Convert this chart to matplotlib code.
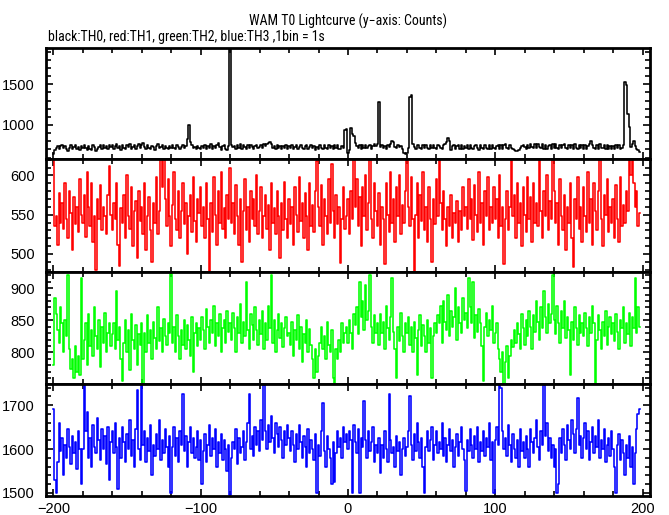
import numpy as np
import matplotlib
matplotlib.use("Agg")
import matplotlib.pyplot as plt
from matplotlib.ticker import MultipleLocator
from matplotlib import font_manager

plt.rcParams['font.family'] = ['Liberation Sans', 'DejaVu Sans']
names = {f.name for f in font_manager.fontManager.ttflist}

title = "WAM T0 Lightcurve (y\u2212axis: Counts)"
subtitle = "black:TH0, red:TH1, green:TH2, blue:TH3 ,1bin = 1s"

time_s = list(range(-200, 199))

th0 = [
    640, 690, 715, 745, 700, 738, 755, 712, 740, 705, 680, 722, 748, 700, 735, 752, 710, 728, 695, 740,
    712, 758, 720, 695, 742, 708, 690, 750, 725, 685, 705, 730, 748, 702, 760, 722, 745, 710, 758, 728,
    748, 705, 736, 762, 712, 740, 698, 755, 720, 708, 750, 725, 768, 710, 735, 752, 702, 745, 770, 720,
    760, 775, 728, 705, 755, 718, 700, 745, 725, 698, 740, 762, 712, 730, 750, 705, 745, 720, 700, 738,
    712, 755, 720, 700, 748, 735, 705, 728, 752, 715, 745, 830, 1005, 790, 760, 718, 735, 700, 745, 722,
    700, 742, 715, 755, 705, 738, 720, 762, 708, 745, 712, 758, 780, 725, 698, 740, 755, 710, 695, 738,
    2300, 760, 725, 742, 700, 750, 718, 762, 710, 748, 725, 700, 752, 715, 758, 728, 705, 740, 755, 712,
    735, 755, 718, 762, 745, 770, 782, 795, 765, 722, 740, 702, 748, 715, 738, 700, 745, 712, 752, 705,
    740, 712, 750, 700, 735, 758, 710, 728, 752, 715, 700, 742, 760, 708, 725, 750, 712, 745, 698, 735,
    708, 750, 720, 700, 758, 715, 702, 748, 712, 740, 705, 752, 718, 760, 710, 700, 742, 718, 935, 945,
    650, 690, 965, 885, 870, 775, 740, 712, 750, 705, 748, 720, 755, 712, 738, 760, 708, 745, 765, 740,
    770, 1280, 730, 748, 715, 740, 705, 752, 728, 765, 800, 795, 730, 712, 748, 725, 740, 700, 655, 640,
    660, 720, 1340, 1365, 770, 725, 705, 748, 758, 712, 700, 752, 715, 760, 722, 705, 748, 718, 755, 720,
    705, 758, 740, 720, 700, 752, 770, 790, 840, 800, 695, 738, 752, 700, 742, 758, 710, 748, 705, 740,
    715, 755, 708, 760, 722, 700, 745, 758, 712, 698, 752, 715, 705, 760, 720, 702, 750, 710, 756, 718,
    700, 745, 758, 710, 752, 705, 748, 762, 715, 708, 755, 722, 700, 690, 682, 680, 695, 712, 745, 758,
    725, 705, 760, 722, 768, 735, 712, 762, 720, 770, 728, 715, 765, 708, 750, 700, 742, 756, 710, 762,
    718, 765, 722, 705, 755, 712, 760, 770, 722, 705, 758, 715, 752, 710, 765, 720, 705, 752, 712, 758,
    710, 752, 705, 745, 770, 800, 760, 712, 700, 750, 708, 765, 722, 712, 748, 700, 758, 710, 745, 700,
    745, 705, 758, 712, 750, 700, 718, 760, 1530, 1490, 1140, 975, 735, 770, 800, 740, 710, 690, 670,
]

th1 = [
    620, 535, 548, 512, 578, 540, 565, 532, 590, 545, 520, 580, 552, 505, 572, 538, 560, 528, 595, 550,
    540, 575, 522, 605, 560, 535, 590, 515, 548, 480, 570, 545, 588, 530, 560, 548, 525, 575, 612, 550,
    530, 565, 545, 590, 512, 485, 558, 540, 575, 520, 600, 548, 532, 585, 510, 555, 568, 495, 580, 542,
    560, 525, 590, 505, 548, 572, 530, 490, 565, 540, 598, 525, 555, 625, 585, 625, 570, 535, 595, 548,
    510, 562, 605, 545, 530, 580, 520, 555, 590, 538, 565, 500, 548, 575, 528, 598, 542, 515, 570, 552,
    585, 535, 560, 520, 590, 545, 478, 565, 528, 598, 550, 512, 580, 540, 605, 532, 558, 520, 575, 545,
    610, 540, 565, 525, 588, 548, 512, 570, 490, 555, 595, 530, 560, 515, 580, 545, 570, 535, 600, 525,
    555, 585, 520, 548, 575, 532, 562, 505, 590, 540, 558, 525, 580, 548, 495, 565, 530, 592, 545, 520,
    570, 538, 560, 512, 585, 550, 528, 598, 542, 565, 520, 578, 548, 505, 590, 535, 562, 528, 580, 618,
    560, 535, 588, 512, 570, 548, 525, 595, 540, 615, 555, 520, 575, 538, 560, 488, 545, 585, 532, 548,
    570, 525, 580, 545, 625, 560, 595, 535, 572, 510, 585, 548, 600, 530, 565, 625, 545, 520, 590, 555,
    535, 578, 512, 560, 545, 487, 590, 550, 528, 605, 540, 570, 515, 585, 548, 600, 525, 562, 540, 580,
    625, 560, 535, 598, 545, 477, 550, 590, 520, 575, 542, 605, 530, 560, 515, 585, 545, 490, 570, 538,
    595, 548, 625, 565, 530, 580, 545, 510, 560, 535, 575, 520, 552, 540, 568, 515, 555, 530, 585, 548,
    560, 532, 595, 545, 570, 518, 588, 550, 528, 605, 540, 565, 512, 580, 548, 598, 530, 560, 540, 585,
    545, 570, 520, 600, 535, 560, 487, 545, 580, 530, 560, 625, 548, 575, 520, 590, 540, 565, 510, 585,
    550, 528, 598, 545, 572, 515, 590, 540, 565, 535, 625, 555, 520, 580, 548, 600, 530, 568, 545, 625,
    580, 540, 565, 512, 595, 548, 530, 575, 505, 560, 540, 590, 520, 483, 570, 545, 598, 532, 560, 515,
    585, 548, 528, 605, 540, 570, 512, 590, 555, 530, 580, 625, 545, 510, 575, 550, 595, 528, 560, 540,
    570, 520, 588, 545, 515, 598, 535, 562, 540, 580, 555, 625, 600, 625, 590, 560, 580, 535, 552,
]

th2 = [
    780, 885, 860, 835, 815, 870, 845, 800, 850, 825, 920, 805, 775, 790, 760, 810, 770, 795, 765, 915,
    790, 820, 845, 780, 860, 810, 835, 795, 870, 825, 805, 850, 778, 840, 815, 862, 800, 830, 845, 810,
    828, 845, 805, 895, 820, 840, 790, 755, 815, 850, 800, 835, 772, 860, 820, 805, 842, 780, 828, 812,
    845, 750, 830, 800, 858, 815, 835, 790, 848, 822, 805, 870, 818, 838, 800, 852, 826, 812, 845, 830,
    922, 815, 840, 800, 858, 825, 790, 835, 812, 850, 805, 842, 820, 795, 855, 770, 830, 845, 810, 838,
    820, 855, 835, 805, 868, 840, 815, 850, 830, 872, 810, 845, 825, 860, 800, 838, 850, 815, 865, 832,
    845, 820, 862, 838, 800, 855, 830, 875, 815, 848, 825, 910, 835, 805, 860, 842, 820, 870, 835, 812,
    850, 828, 865, 805, 845, 820, 872, 838, 920, 815, 850, 800, 835, 860, 822, 845, 808, 838, 855, 825,
    830, 812, 848, 795, 835, 820, 858, 805, 840, 785, 828, 815, 850, 800, 836, 812, 790, 760, 805, 770,
    795, 815, 840, 805, 825, 790, 848, 812, 800, 835, 760, 750, 805, 790, 820, 800, 845, 815, 830, 840,
    815, 850, 830, 805, 860, 842, 870, 828, 910, 855, 880, 835, 905, 850, 865, 920, 840, 815, 858, 830,
    845, 812, 860, 830, 848, 805, 872, 838, 820, 855, 915, 832, 805, 760, 840, 818, 862, 826, 800, 845,
    830, 855, 812, 840, 800, 848, 822, 765, 835, 858, 810, 842, 825, 800, 850, 815, 838, 760, 826, 845,
    830, 858, 845, 872, 815, 880, 848, 835, 890, 825, 865, 840, 855, 900, 820, 870, 845, 830, 885, 850,
    862, 838, 915, 870, 845, 910, 822, 858, 832, 868, 845, 810, 755, 840, 862, 825, 850, 835, 872, 815,
    830, 845, 805, 790, 770, 800, 750, 785, 810, 760, 795, 820, 808, 835, 815, 845, 828, 805, 860, 838,
    812, 850, 826, 865, 840, 805, 858, 832, 880, 848, 820, 870, 838, 895, 855, 830, 875, 845, 860, 920,
    850, 828, 872, 845, 815, 865, 838, 880, 822, 855, 835, 765, 848, 820, 870, 838, 812, 858, 830, 845,
    825, 862, 838, 810, 855, 830, 872, 845, 750, 820, 858, 835, 805, 848, 825, 865, 812, 840, 855, 828,
    845, 818, 860, 832, 805, 850, 838, 870, 815, 845, 828, 862, 810, 855, 838, 915, 830, 870, 840,
]

th3 = [
    1690, 1530, 1500, 1570, 1660, 1595, 1625, 1540, 1610, 1580, 1645, 1605, 1565, 1630, 1590, 1615, 1555, 1640, 1600, 1520,
    1600, 1745, 1640, 1685, 1580, 1625, 1560, 1655, 1605, 1590, 1670, 1620, 1575, 1645, 1600, 1630, 1565, 1650, 1530, 1615,
    1640, 1590, 1660, 1605, 1510, 1625, 1580, 1650, 1615, 1570, 1635, 1600, 1665, 1585, 1620, 1560, 1645, 1735, 1600, 1575,
    1745, 1610, 1640, 1570, 1625, 1595, 1655, 1540, 1610, 1585, 1635, 1600, 1665, 1575, 1620, 1590, 1645, 1605, 1560, 1630,
    1500, 1605, 1650, 1585, 1625, 1570, 1640, 1610, 1725, 1595, 1630, 1560, 1615, 1650, 1590, 1625, 1580, 1605, 1640, 1575,
    1620, 1520, 1595, 1635, 1570, 1610, 1655, 1585, 1625, 1600, 1645, 1560, 1615, 1590, 1635, 1575, 1620, 1600, 1550, 1610,
    1495, 1580, 1615, 1600, 1645, 1565, 1625, 1590, 1605, 1640, 1575, 1615, 1660, 1725, 1600, 1630, 1585, 1650, 1610, 1640,
    1595, 1665, 1620, 1745, 1640, 1600, 1655, 1615, 1675, 1625, 1590, 1660, 1635, 1605, 1650, 1620, 1580, 1640, 1610, 1655,
    1625, 1595, 1640, 1610, 1570, 1635, 1600, 1655, 1615, 1580, 1630, 1605, 1560, 1645, 1590, 1620, 1600, 1575, 1635, 1500,
    1610, 1585, 1640, 1705, 1595, 1560, 1630, 1600, 1580, 1520, 1615, 1525, 1590, 1640, 1605, 1625, 1580, 1650, 1615, 1635,
    1600, 1640, 1620, 1500, 1655, 1615, 1590, 1645, 1500, 1625, 1605, 1710, 1620, 1580, 1640, 1595, 1615, 1650, 1570, 1610,
    1590, 1625, 1545, 1610, 1580, 1640, 1600, 1570, 1725, 1620, 1590, 1605, 1560, 1630, 1595, 1615, 1540, 1600, 1625, 1585,
    1605, 1640, 1720, 1610, 1575, 1635, 1595, 1660, 1615, 1580, 1625, 1560, 1500, 1605, 1640, 1595, 1620, 1650, 1575, 1610,
    1640, 1590, 1615, 1600, 1660, 1585, 1625, 1570, 1610, 1645, 1595, 1620, 1560, 1605, 1635, 1585, 1615, 1650, 1600, 1575,
    1505, 1620, 1595, 1645, 1610, 1580, 1630, 1600, 1650, 1570, 1615, 1595, 1640, 1585, 1625, 1605, 1660, 1575, 1615, 1500,
    1620, 1650, 1610, 1745, 1740, 1640, 1600, 1625, 1585, 1655, 1610, 1570, 1635, 1600, 1580, 1620, 1560, 1645, 1595, 1615,
    1580, 1630, 1600, 1560, 1645, 1615, 1590, 1625, 1665, 1605, 1575, 1640, 1610, 1745, 1630, 1660, 1595, 1625, 1580, 1610,
    1560, 1600, 1500, 1520, 1625, 1590, 1645, 1610, 1575, 1655, 1620, 1600, 1665, 1635, 1590, 1645, 1715, 1610, 1630, 1580,
    1625, 1660, 1600, 1640, 1575, 1615, 1650, 1590, 1630, 1605, 1665, 1580, 1620, 1600, 1645, 1570, 1610, 1625, 1585, 1640,
    1600, 1560, 1500, 1610, 1635, 1575, 1620, 1590, 1540, 1610, 1580, 1630, 1560, 1605, 1520, 1590, 1645, 1680, 1690,
]

series = [th0, th1, th2, th3]
colors = ["black", "#ff0000", "#00ff00", "#0000ff"]
ylims = [(582, 1946), (477, 621), (751, 925), (1493, 1748)]
majors = [500, 50, 50, 100]
minors = [100, 10, 10, 20]

W, H = 669, 515
fig = plt.figure(figsize=(W / 100, H / 100), dpi=100)
left = 46 / W
width = (650 - 46) / W
edges = [48, 159, 272, 384, 496]

for i in range(4):
    top, bot = edges[i], edges[i + 1]
    ax = fig.add_axes([left, 1 - bot / H, width, (bot - top) / H])
    ax.plot(time_s, series[i], drawstyle="steps-mid", color=colors[i], lw=1.15)
    ax.set_xlim(-205, 205)
    ax.set_ylim(*ylims[i])
    ax.xaxis.set_major_locator(MultipleLocator(100))
    ax.xaxis.set_minor_locator(MultipleLocator(20))
    ax.yaxis.set_major_locator(MultipleLocator(majors[i]))
    ax.yaxis.set_minor_locator(MultipleLocator(minors[i]))
    ax.tick_params(which="both", direction="in", top=True, right=True,
                   width=1.2, labelsize=10.5)
    ax.tick_params(axis="y", pad=8)
    ax.tick_params(axis="x", pad=4)
    ax.tick_params(which="major", length=5)
    ax.tick_params(which="minor", length=3.5)
    for s in ax.spines.values():
        s.set_linewidth(2)
    if i < 3:
        ax.tick_params(labelbottom=False)

if 'Liberation Sans Narrow' in names:
    tfont = dict(family=['Liberation Sans Narrow', 'DejaVu Sans'], fontsize=10.5)
elif 'Roboto Condensed' in names:
    tfont = dict(family=['Roboto Condensed', 'DejaVu Sans'], fontsize=10)
else:
    tfont = dict(fontsize=9)
fig.text(348 / W, 1 - 26 / H, title, ha="center", va="baseline", **tfont)
fig.text(48 / W, 1 - 41 / H, subtitle, ha="left", va="baseline", **tfont)

fig.savefig("out.png", dpi=100)
